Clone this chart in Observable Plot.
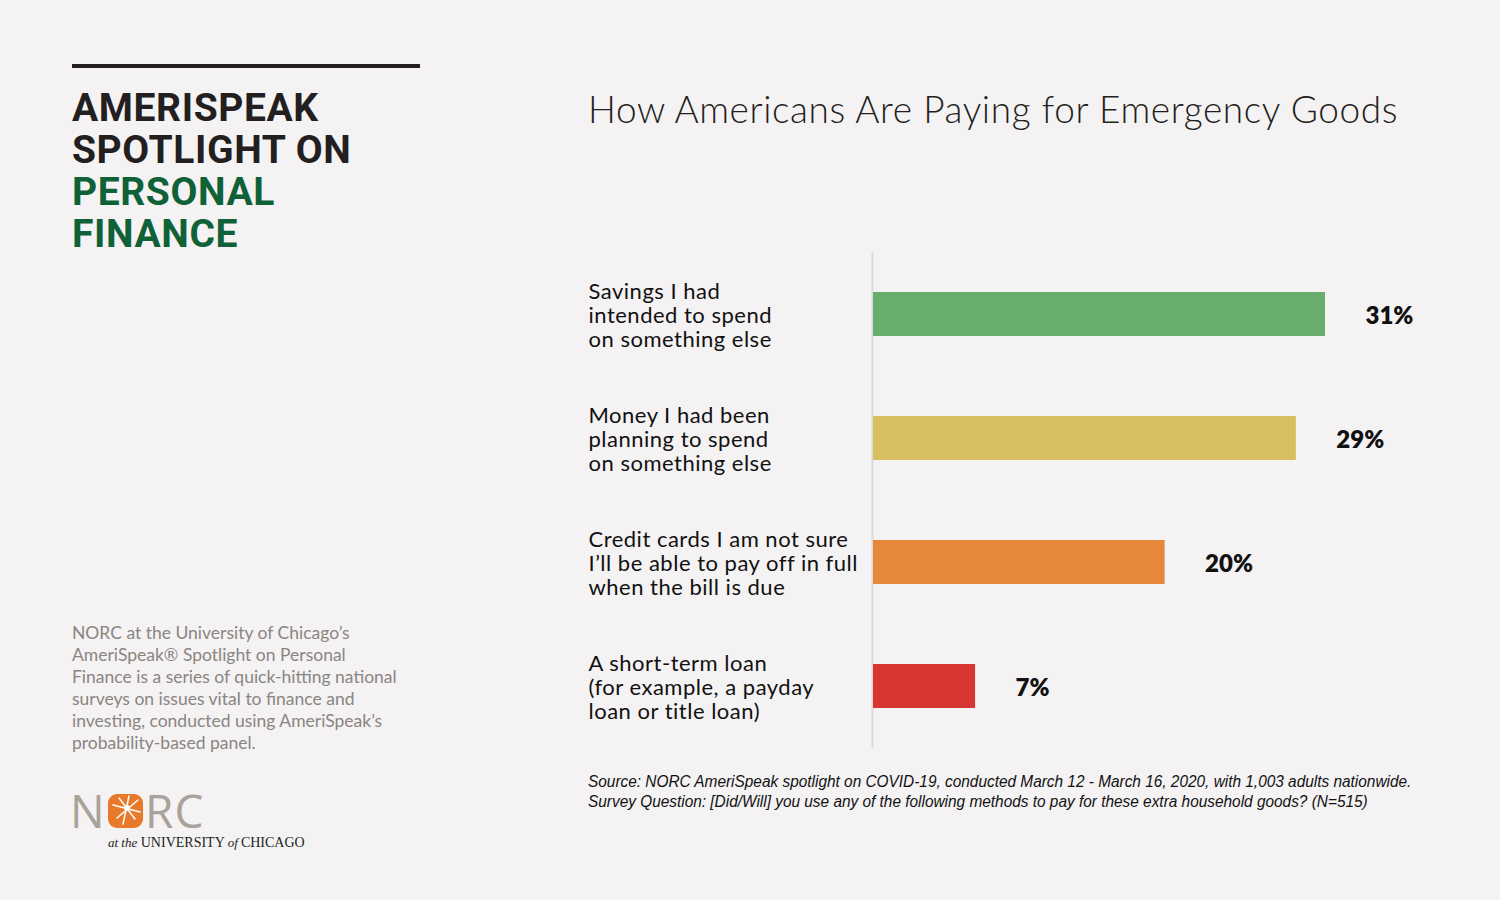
<!DOCTYPE html>
<html>
<head>
<meta charset="utf-8">
<script src="https://cdn.jsdelivr.net/npm/d3@7"></script>
<script src="https://cdn.jsdelivr.net/npm/@observablehq/plot@0.6"></script>
<style>
  html, body { margin: 0; padding: 0; background: #f4f2f3; }
  #page { position: relative; width: 1500px; height: 900px; background: #f4f2f3; overflow: hidden; font-family: Lato, "Open Sans", sans-serif; }
  .abs { position: absolute; }
  #rule { left: 72px; top: 64px; width: 348px; height: 4px; background: #231f20; }
  .bt { left: 72px; font-family: Roboto, sans-serif; font-weight: 700; font-size: 39px; letter-spacing: 0.6px; line-height: 42px; height: 42px; color: #231f20; white-space: nowrap; }
  .bt.g { color: #0f6137; }
  #desc { left: 72px; top: 622px; font-family: Lato, sans-serif; font-size: 17.5px; line-height: 22px; color: #8a8581; white-space: nowrap; }
  #logo { left: 0; top: 0; }
  #uni { left: 108px; top: 835px; font-family: "Liberation Serif", serif; font-size: 14px; color: #231f20; white-space: nowrap; }
  #uni i { font-size: 13px; }
  #uni .of { margin: 0 3px 0 3px; }
  #ctitle { left: 588px; top: 86px; font-family: Lato, sans-serif; font-weight: 300; font-size: 37px; letter-spacing: 0.6px; color: #231f20; white-space: nowrap; }
  #source { left: 588px; top: 772px; font-family: "Liberation Sans Narrow", "Liberation Sans", sans-serif; font-style: italic; font-size: 16px; line-height: 20px; color: #111; white-space: nowrap; transform: scaleX(0.962); transform-origin: left top; }
  #chart { left: 0; top: 0; }
</style>
</head>
<body>
<div id="page">
  <div id="rule" class="abs"></div>
  <div class="abs bt" style="top:87px">AMERISPEAK</div>
  <div class="abs bt" style="top:129px">SPOTLIGHT ON</div>
  <div class="abs bt g" style="top:171px">PERSONAL</div>
  <div class="abs bt g" style="top:213px">FINANCE</div>
  <div id="desc" class="abs">NORC at the University of Chicago’s<br>AmeriSpeak® Spotlight on Personal<br>Finance is a series of quick-hitting national<br>surveys on issues vital to finance and<br>investing, conducted using AmeriSpeak’s<br>probability-based panel.</div>
  <svg id="logo" class="abs" width="320" height="900" style="pointer-events:none">
    <g fill="#a9a29b" font-family="Open Sans, sans-serif" font-size="46" font-weight="400">
      <text x="70" y="828">N</text>
      <text x="145" y="828" letter-spacing="1">RC</text>
    </g>
    <rect x="108" y="794" width="35" height="34" rx="9" fill="#e8792b"/>
    <g stroke="#fff" stroke-width="1.5" stroke-linecap="round" transform="translate(108,794)">
      <line x1="21" y1="2" x2="15" y2="30"/><line x1="5" y1="11" x2="32" y2="18"/><line x1="11" y1="4" x2="27" y2="25"/><line x1="30" y1="6" x2="9" y2="24"/>
    </g>
    <circle cx="127" cy="808" r="3" fill="#fff"/>
  </svg>
  <div id="uni" class="abs"><i>at the</i> UNIVERSITY<i class="of">of</i>CHICAGO</div>
  <div id="ctitle" class="abs">How Americans Are Paying for Emergency Goods</div>
  <div id="source" class="abs">Source: NORC AmeriSpeak spotlight on COVID-19, conducted March 12 - March 16, 2020, with 1,003 adults nationwide.<br>Survey Question: [Did/Will] you use any of the following methods to pay for these extra household goods? (N=515)</div>
  <div id="chart" class="abs"></div>
</div>
<script>
const categories = [
  "Savings I had\nintended to spend\non something else",
  "Money I had been\nplanning to spend\non something else",
  "Credit cards I am not sure\nI’ll be able to pay off in full\nwhen the bill is due",
  "A short-term loan\n(for example, a payday\nloan or title loan)"
];
const values = [31, 29, 20, 7];
const valueLabels = ["31%", "29%", "20%", "7%"];
const colors = ["#67ad6b", "#d7bf5f", "#e6873a", "#d73633"];

const rows = categories.map((c, i) => ({category: c, value: values[i], label: valueLabels[i], color: colors[i]}));

const chart = Plot.plot({
  width: 1500,
  height: 900,
  marginLeft: 873,
  marginRight: 175,
  marginTop: 252,
  marginBottom: 152,
  style: {background: "transparent", overflow: "visible"},
  x: {domain: [0, 31], axis: null},
  y: {domain: categories, padding: 0, axis: null},
  color: {type: "identity"},
  marks: [
    Plot.ruleX([0], {stroke: "#dcdada", strokeWidth: 2, dx: -1}),
    Plot.barX(rows, {x: "value", y: "category", fill: "color", insetTop: 40, insetBottom: 40}),
    Plot.text(rows, {x: "value", y: "category", text: "label", dx: 40, dy: 2, textAnchor: "start", fontSize: 24, fontWeight: 800, fill: "#111", fontFamily: "Lato, sans-serif"}),
    Plot.text(rows, {y: "category", text: "category", frameAnchor: "left", dx: -285, dy: 1, textAnchor: "start", fontSize: 22, lineHeight: 1.1, fill: "#111", fontFamily: "Lato, sans-serif"})
  ]
});
const textGroups = chart.querySelectorAll('g[aria-label="text"]');
if (textGroups.length > 1) textGroups[1].style.letterSpacing = "0.5px";
document.getElementById("chart").appendChild(chart);
</script>
</body>
</html>
